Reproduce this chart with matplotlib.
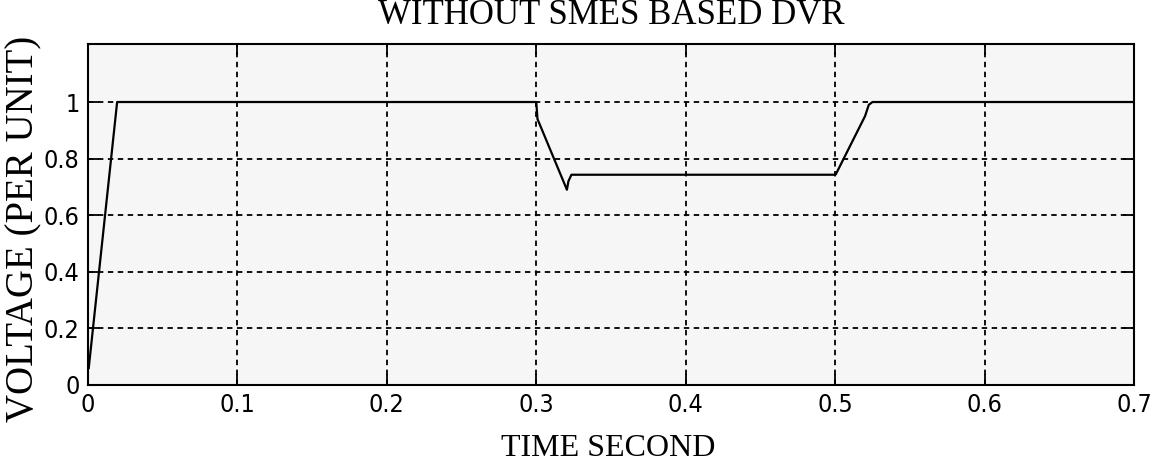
import matplotlib
matplotlib.use("Agg")
import matplotlib.pyplot as plt
from matplotlib import font_manager

# voltage trace
time_s = [0.0005, 0.0195, 0.3, 0.3008, 0.3205, 0.3215, 0.3235, 0.5, 0.5005, 0.52, 0.5225, 0.525, 0.7]
voltage_pu = [0.06, 1.0, 1.0, 0.94, 0.69, 0.72, 0.743, 0.743, 0.745, 0.95, 0.99, 1.0, 1.0]

x_ticks = [0, 0.1, 0.2, 0.3, 0.4, 0.5, 0.6, 0.7]
x_tick_labels = ["0", "0.1", "0.2", "0.3", "0.4", "0.5", "0.6", "0.7"]
y_ticks = [0, 0.2, 0.4, 0.6, 0.8, 1.0]
y_tick_labels = ["0", "0.2", "0.4", "0.6", "0.8", "1"]

names = {f.name for f in font_manager.fontManager.ttflist}
if "Liberation Sans Narrow" in names:
    tick_font, tick_stretch = "Liberation Sans Narrow", "normal"
else:
    tick_font, tick_stretch = "DejaVu Sans", "condensed"
serif = "Liberation Serif"

fig = plt.figure(figsize=(11.56, 4.66), dpi=100)
ax = fig.add_axes([88 / 1156, 1 - 385 / 466, (1134 - 88) / 1156, (385 - 44) / 466])
ax.set_facecolor("#f6f6f6")

ax.plot(time_s, voltage_pu, color="black", linewidth=1.6)

ax.set_xlim(0, 0.7)
ax.set_ylim(0, 1.205)
ax.set_xticks(x_ticks)
ax.set_xticklabels(x_tick_labels)
ax.set_yticks(y_ticks)
ax.set_yticklabels(y_tick_labels)

ax.grid(True, color="black", linestyle=(0, (3, 2.5)), linewidth=1.3)
ax.tick_params(direction="in", length=8, width=1.3, top=True, right=True, pad=6)
for lab in ax.get_xticklabels() + ax.get_yticklabels():
    lab.set_fontfamily(tick_font)
    lab.set_fontstretch(tick_stretch)
    lab.set_fontsize(18)
for sp in ax.spines.values():
    sp.set_linewidth(1.5)

fig.text(611 / 1156, 1 - 24 / 466, "WITHOUT SMES BASED DVR", family=serif,
         fontsize=25, ha="center", va="baseline")
fig.text(608 / 1156, 1 - 456 / 466, "TIME SECOND", family=serif,
         fontsize=23, ha="center", va="baseline")
fig.text(24 / 1156, 1 - 229 / 466, "VOLTAGE (PER UNIT)", family=serif,
         fontsize=28, ha="center", va="center", rotation=90)

fig.savefig("out.png", dpi=100)
print("Saved figure: out.png")
